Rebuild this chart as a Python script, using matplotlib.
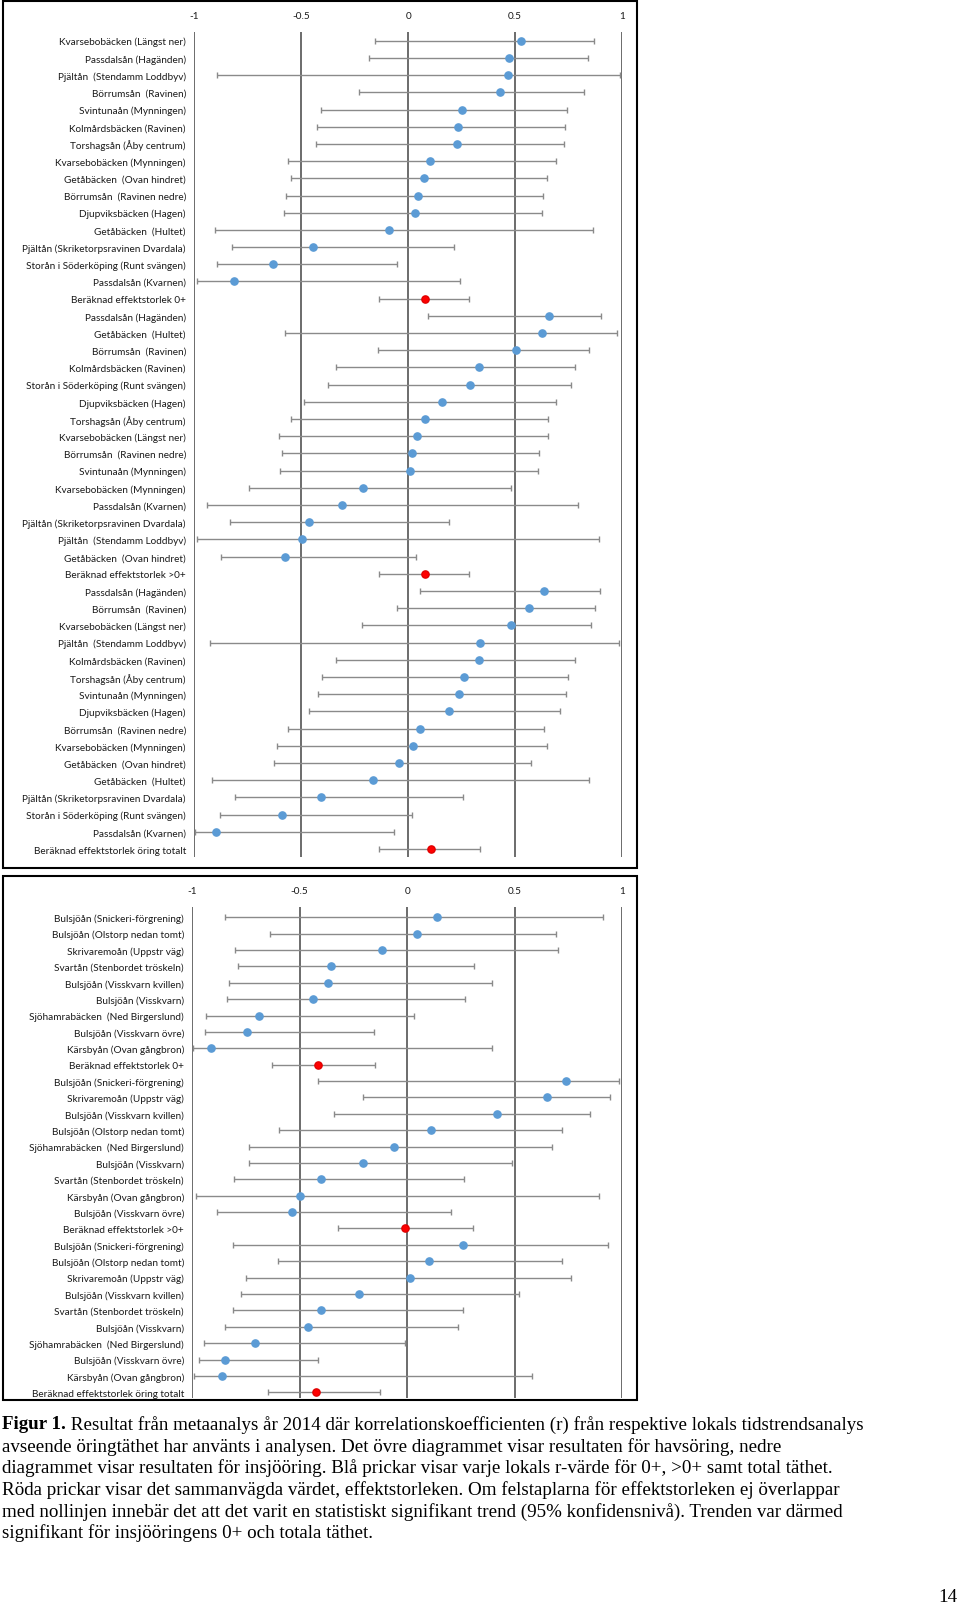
import numpy as np
import matplotlib
matplotlib.use('Agg')
import matplotlib.pyplot as plt
from matplotlib.patches import Rectangle

# havsöring (upper diagram)
top_labels = [
    'Kvarsebobäcken (Längst ner)', 'Passdalsån (Hagänden)', 'Pjältån  (Stendamm Loddbyv)',
    'Börrumsån  (Ravinen)', 'Svintunaån (Mynningen)', 'Kolmårdsbäcken (Ravinen)',
    'Torshagsån (Åby centrum)', 'Kvarsebobäcken (Mynningen)', 'Getåbäcken  (Ovan hindret)',
    'Börrumsån  (Ravinen nedre)', 'Djupviksbäcken (Hagen)', 'Getåbäcken  (Hultet)',
    'Pjältån (Skriketorpsravinen Dvardala)', 'Storån i Söderköping (Runt svängen)',
    'Passdalsån (Kvarnen)', 'Beräknad effektstorlek 0+',
    'Passdalsån (Hagänden)', 'Getåbäcken  (Hultet)', 'Börrumsån  (Ravinen)',
    'Kolmårdsbäcken (Ravinen)', 'Storån i Söderköping (Runt svängen)', 'Djupviksbäcken (Hagen)',
    'Torshagsån (Åby centrum)', 'Kvarsebobäcken (Längst ner)', 'Börrumsån  (Ravinen nedre)',
    'Svintunaån (Mynningen)', 'Kvarsebobäcken (Mynningen)', 'Passdalsån (Kvarnen)',
    'Pjältån (Skriketorpsravinen Dvardala)', 'Pjältån  (Stendamm Loddbyv)',
    'Getåbäcken  (Ovan hindret)', 'Beräknad effektstorlek >0+',
    'Passdalsån (Hagänden)', 'Börrumsån  (Ravinen)', 'Kvarsebobäcken (Längst ner)',
    'Pjältån  (Stendamm Loddbyv)', 'Kolmårdsbäcken (Ravinen)', 'Torshagsån (Åby centrum)',
    'Svintunaån (Mynningen)', 'Djupviksbäcken (Hagen)', 'Börrumsån  (Ravinen nedre)',
    'Kvarsebobäcken (Mynningen)', 'Getåbäcken  (Ovan hindret)', 'Getåbäcken  (Hultet)',
    'Pjältån (Skriketorpsravinen Dvardala)', 'Storån i Söderköping (Runt svängen)',
    'Passdalsån (Kvarnen)', 'Beräknad effektstorlek öring totalt']
top_r = [0.528, 0.472, 0.466, 0.428, 0.253, 0.232, 0.228, 0.102, 0.075, 0.044, 0.033, -0.088,
         -0.445, -0.633, -0.816, 0.077,
         0.658, 0.624, 0.503, 0.330, 0.290, 0.157, 0.079, 0.040, 0.019, 0.010, -0.213, -0.307,
         -0.463, -0.497, -0.576, 0.077,
         0.635, 0.566, 0.482, 0.334, 0.330, 0.261, 0.238, 0.190, 0.054, 0.023, -0.042, -0.163,
         -0.407, -0.591, -0.898, 0.106]
top_lo = [-0.154, -0.182, -0.894, -0.232, -0.409, -0.428, -0.432, -0.562, -0.549, -0.570, -0.580,
          -0.902, -0.825, -0.893, -0.987, -0.134,
          0.094, -0.578, -0.140, -0.338, -0.376, -0.489, -0.547, -0.605, -0.589, -0.597, -0.745,
          -0.939, -0.831, -0.988, -0.873, -0.134,
          0.056, -0.054, -0.215, -0.925, -0.338, -0.401, -0.422, -0.463, -0.564, -0.614, -0.628,
          -0.916, -0.810, -0.881, -0.998, -0.134]
top_hi = [0.871, 0.839, 0.990, 0.821, 0.745, 0.733, 0.731, 0.691, 0.649, 0.631, 0.624, 0.866,
          0.215, -0.054, 0.242, 0.286,
          0.904, 0.977, 0.848, 0.779, 0.760, 0.693, 0.653, 0.656, 0.614, 0.608, 0.482, 0.793,
          0.192, 0.891, 0.038, 0.284,
          0.896, 0.873, 0.854, 0.985, 0.779, 0.747, 0.737, 0.712, 0.635, 0.647, 0.574, 0.845,
          0.257, 0.017, -0.065, 0.336]

# insjööring (lower diagram)
bot_labels = [
    'Bulsjöån (Snickeri-förgrening)', 'Bulsjöån (Olstorp nedan tomt)', 'Skrivaremoån (Uppstr väg)',
    'Svartån (Stenbordet tröskeln)', 'Bulsjöån (Visskvarn kvillen)', 'Bulsjöån (Visskvarn)',
    'Sjöhamrabäcken  (Ned Birgerslund)', 'Bulsjöån (Visskvarn övre)', 'Kärsbyån (Ovan gångbron)',
    'Beräknad effektstorlek 0+',
    'Bulsjöån (Snickeri-förgrening)', 'Skrivaremoån (Uppstr väg)', 'Bulsjöån (Visskvarn kvillen)',
    'Bulsjöån (Olstorp nedan tomt)', 'Sjöhamrabäcken  (Ned Birgerslund)', 'Bulsjöån (Visskvarn)',
    'Svartån (Stenbordet tröskeln)', 'Kärsbyån (Ovan gångbron)', 'Bulsjöån (Visskvarn övre)',
    'Beräknad effektstorlek >0+',
    'Bulsjöån (Snickeri-förgrening)', 'Bulsjöån (Olstorp nedan tomt)', 'Skrivaremoån (Uppstr väg)',
    'Bulsjöån (Visskvarn kvillen)', 'Svartån (Stenbordet tröskeln)', 'Bulsjöån (Visskvarn)',
    'Sjöhamrabäcken  (Ned Birgerslund)', 'Bulsjöån (Visskvarn övre)', 'Kärsbyån (Ovan gångbron)',
    'Beräknad effektstorlek öring totalt']
bot_r = [0.139, 0.044, -0.116, -0.354, -0.367, -0.436, -0.691, -0.744, -0.913, -0.417,
         0.738, 0.649, 0.419, 0.110, -0.061, -0.206, -0.400, -0.499, -0.535, -0.008,
         0.259, 0.103, 0.013, -0.225, -0.403, -0.462, -0.708, -0.847, -0.860, -0.422]
bot_lo = [-0.847, -0.639, -0.799, -0.786, -0.828, -0.837, -0.936, -0.942, -0.995, -0.628,
          -0.415, -0.206, -0.339, -0.598, -0.735, -0.738, -0.807, -0.984, -0.883, -0.320,
          -0.809, -0.601, -0.748, -0.773, -0.809, -0.847, -0.944, -0.967, -0.991, -0.649]
bot_hi = [0.913, 0.691, 0.700, 0.312, 0.396, 0.268, 0.030, -0.154, 0.396, -0.150,
          0.986, 0.944, 0.849, 0.723, 0.676, 0.489, 0.266, 0.892, 0.202, 0.306,
          0.934, 0.721, 0.761, 0.520, 0.261, 0.236, -0.008, -0.417, 0.580, -0.126]

xticks = [-1, -0.5, 0, 0.5, 1]
xticklabels = ['-1', '-0.5', '0', '0.5', '1']

caption = [
    ' Resultat från metaanalys år 2014 där korrelationskoefficienten (r) från respektive lokals tidstrendsanalys',
    'avseende öringtäthet har använts i analysen. Det övre diagrammet visar resultaten för havsöring, nedre',
    'diagrammet visar resultaten för insjööring. Blå prickar visar varje lokals r-värde för 0+, >0+ samt total täthet.',
    'Röda prickar visar det sammanvägda värdet, effektstorleken. Om felstaplarna för effektstorleken ej överlappar',
    'med nollinjen innebär det att det varit en statistiskt signifikant trend (95% konfidensnivå). Trenden var därmed',
    'signifikant för insjööringens 0+ och totala täthet.']

W, H = 960, 1608
fig = plt.figure(figsize=(W / 100, H / 100), dpi=100)
lab_font = ['Lato', 'DejaVu Sans']
lab_size = 7.2


def forest(ax, labels, r, lo, hi, ylim):
    y = np.arange(len(labels))
    r = np.array(r); lo = np.array(lo); hi = np.array(hi)
    for x in xticks:
        ax.axvline(x, color='#444444', lw=1.1, zorder=1)
    red = np.array([s.startswith('Beräknad') for s in labels])
    ax.errorbar(r, y, xerr=[r - lo, hi - r], fmt='none', ecolor='#8a8a8a',
                elinewidth=1.0, capsize=2.3, capthick=1.0, zorder=2)
    ax.plot(r[~red], y[~red], 'o', ms=5.2, color='#5b9bd5', mec='#5b9bd5', zorder=3)
    ax.plot(r[red], y[red], 'o', ms=5.2, color='#ff0000', mec='#e00000', zorder=3)
    ax.set_xlim(-1, 1)
    ax.set_ylim(*ylim)
    ax.set_yticks(y)
    ax.set_yticklabels(labels, family=lab_font, fontsize=lab_size, color='#1a1a1a')
    ax.xaxis.tick_top()
    ax.set_xticks(xticks)
    ax.set_xticklabels(xticklabels, family=lab_font, fontsize=lab_size, color='#1a1a1a')
    ax.tick_params(axis='both', length=0)
    ax.tick_params(axis='y', pad=6)
    ax.tick_params(axis='x', pad=8.5)
    for s in ax.spines.values():
        s.set_visible(False)


ax1 = fig.add_axes([194.3 / W, 1 - 858 / H, (622 - 194.3) / W, (858 - 33) / H])
forest(ax1, top_labels, top_r, top_lo, top_hi, (47.46, -0.506))

ax2 = fig.add_axes([192.3 / W, 1 - 1399 / H, (622 - 192.3) / W, (1399 - 908) / H])
forest(ax2, bot_labels, bot_r, bot_lo, bot_hi, (29.35, -0.63))

# frames around the two diagrams
for (x0, y0, x1, y1) in [(3, 2, 637, 869), (3, 877, 637, 1401)]:
    fig.patches.append(Rectangle((x0 / W, 1 - y1 / H), (x1 - x0) / W, (y1 - y0) / H,
                                 transform=fig.transFigure, fill=False, ec='black', lw=1.5))

# caption
cap_font = ['Liberation Serif', 'DejaVu Serif']
cap_size = 13.7
y0 = 1425
t = fig.text(2 / W, 1 - y0 / H, 'Figur 1.', family=cap_font, fontsize=cap_size, weight='bold', va='center')
fig.canvas.draw()
bb = t.get_window_extent()
fig.text(bb.x1 / W, 1 - y0 / H, caption[0], family=cap_font, fontsize=cap_size, va='center')
for i, line in enumerate(caption[1:], start=1):
    fig.text(2 / W, 1 - (y0 + 21.7 * i) / H, line, family=cap_font, fontsize=cap_size, va='center')
fig.text(957 / W, 1 - 1598 / H, '14', family=cap_font, fontsize=cap_size, ha='right', va='center')

fig.savefig('out.png', dpi=100)
